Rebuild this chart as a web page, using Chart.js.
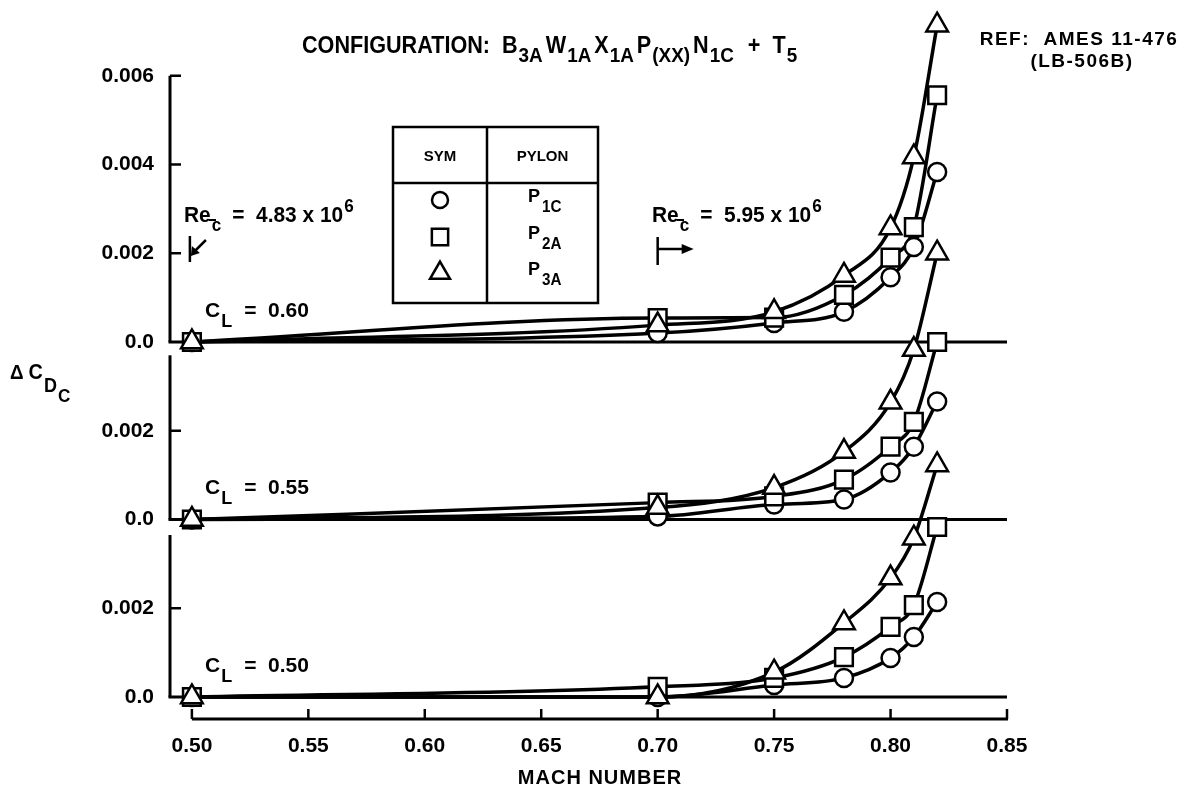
<!DOCTYPE html>
<html lang="en">
<head>
<meta charset="UTF-8">
<title>Pylon drag increment vs Mach number</title>
<script src="https://cdn.jsdelivr.net/npm/chart.js"></script>
<style>
  html, body { margin: 0; padding: 0; background: #fff; }
  #wrap { width: 1185px; height: 787px; position: relative; }
</style>
</head>
<body>
<div id="wrap"><canvas id="chart"></canvas></div>
<script>
// mach numbers where data was taken
const machNumbers = [0.50, 0.70, 0.75, 0.78, 0.80, 0.81, 0.82];

// delta CDc per pylon, one array per lift coefficient
const p1c_060 = [0, 0.00020, 0.00043, 0.00068, 0.00146, 0.00214, 0.00383];
const p2a_060 = [0, 0.00054, 0.00055, 0.00106, 0.00190, 0.00259, 0.00556];
const p3a_060 = [0, 0.00038, 0.00068, 0.00150, 0.00257, 0.00417, 0.00714];

const p1c_055 = [0, 0.00007, 0.00034, 0.00045, 0.00106, 0.00164, 0.00266];
const p2a_055 = [0, 0.00038, 0.00052, 0.00090, 0.00164, 0.00220, 0.00400];
const p3a_055 = [0, 0.00027, 0.00072, 0.00153, 0.00264, 0.00383, 0.00600];

const p1c_050 = [0, 0.00000, 0.00027, 0.00043, 0.00088, 0.00135, 0.00214];
const p2a_050 = [0, 0.00023, 0.00043, 0.00090, 0.00158, 0.00207, 0.00383];
const p3a_050 = [0, 0.00000, 0.00056, 0.00167, 0.00268, 0.00358, 0.00523];

// panels are stacked on one axis, each shifted up by its offset
const panelLabels = ['0.60', '0.55', '0.50'];
const panelOffsets = [0.008, 0.004, 0];
const pylonNames = ['1C', '2A', '3A'];
const pylonSymbols = ['circle', 'rect', 'triangle'];

const xTickValues = [0.50, 0.55, 0.60, 0.65, 0.70, 0.75, 0.80, 0.85];
const xTickLabels = ['0.50', '0.55', '0.60', '0.65', '0.70', '0.75', '0.80', '0.85'];
const yTickValues = [0, 0.002, 0.004, 0.006, 0.008, 0.010, 0.012, 0.014];
const yTickLabels = ['0.0', '0.002', '0.0', '0.002', '0.0', '0.002', '0.004', '0.006'];

const panelSeries = [
  [p1c_060, p2a_060, p3a_060],
  [p1c_055, p2a_055, p3a_055],
  [p1c_050, p2a_050, p3a_050]
];

const SANS = '"Liberation Sans", Arial, Helvetica, sans-serif';

const markerRadius = { circle: 9, rect: 12.5, triangle: 12.5 };

const datasets = [];
panelSeries.forEach((group, p) => {
  group.forEach((vals, s) => {
    const pts = vals.map((v, i) => ({ x: machNumbers[i], y: v + panelOffsets[p] }));
    // curve (drawn underneath)
    datasets.push({
      data: pts,
      borderColor: '#000',
      borderWidth: 3.5,
      pointRadius: 0,
      cubicInterpolationMode: 'monotone',
      fill: false,
      clip: false,
      order: 2
    });
    // open symbols on top, triangles last so they sit over the others
    datasets.push({
      data: pts,
      showLine: false,
      pointStyle: pylonSymbols[s],
      pointRadius: markerRadius[pylonSymbols[s]],
      pointBorderWidth: 2.5,
      pointBorderColor: '#000',
      pointBackgroundColor: '#fff',
      clip: false,
      order: 1 + (3 - s) / 10
    });
  });
});

function runs(ctx, x, y, parts, sx) {
  // text pieces one after another, narrowed by sx; each part may shift up/down
  sx = sx || 1;
  ctx.save();
  ctx.translate(x, y);
  ctx.scale(sx, 1);
  let cx = 0;
  parts.forEach(p => {
    ctx.font = p.font;
    ctx.fillText(p.t, cx, p.dy || 0);
    cx += ctx.measureText(p.t).width + (p.gap || 0) / sx;
  });
  ctx.restore();
  return x + cx * sx;
}

const frame = {
  id: 'frame',
  beforeDatasetsDraw(chart) {
    const { ctx, chartArea, scales: { x, y } } = chart;
    ctx.save();
    ctx.strokeStyle = '#000';
    ctx.lineCap = 'butt';

    // panel baselines
    ctx.lineWidth = 3;
    panelOffsets.forEach(o => {
      ctx.beginPath();
      ctx.moveTo(chartArea.left - 1.5, y.getPixelForValue(o));
      ctx.lineTo(x.getPixelForValue(0.85), y.getPixelForValue(o));
      ctx.stroke();
    });

    // broken left spine, one piece per panel
    const spineTop = [0.014, 0.0077, 0.00365];
    const spineBot = [0.008, 0.004, 0];
    spineTop.forEach((t, i) => {
      ctx.beginPath();
      ctx.moveTo(chartArea.left, y.getPixelForValue(t));
      ctx.lineTo(chartArea.left, y.getPixelForValue(spineBot[i]));
      ctx.stroke();
    });
    ctx.lineWidth = 2.5;
    [0.002, 0.006, 0.010, 0.012, 0.014].forEach(v => {
      const py = y.getPixelForValue(v);
      ctx.beginPath();
      ctx.moveTo(chartArea.left, py);
      ctx.lineTo(chartArea.left + 11, py);
      ctx.stroke();
    });

    // mach axis
    const by = chartArea.bottom;
    ctx.lineWidth = 3;
    ctx.beginPath();
    ctx.moveTo(x.getPixelForValue(0.50), by);
    ctx.lineTo(x.getPixelForValue(0.85) + 1, by);
    ctx.stroke();
    ctx.lineWidth = 2.5;
    xTickValues.forEach(v => {
      const px = x.getPixelForValue(v);
      ctx.beginPath();
      ctx.moveTo(px, by);
      ctx.lineTo(px, by - 10);
      ctx.stroke();
    });
    ctx.restore();
  },
  afterDraw(chart) {
    const { ctx, scales: { x, y } } = chart;
    ctx.save();
    ctx.fillStyle = '#000';
    ctx.strokeStyle = '#000';
    ctx.textBaseline = 'alphabetic';
    ctx.textAlign = 'left';

    const big = 'bold 24px ' + SANS;
    const mid = 'bold 22px ' + SANS;
    const sub = 'bold 18px ' + SANS;
    const tsub = 'bold 21px ' + SANS;

    // title
    runs(ctx, 302, 53, [
      { t: 'CONFIGURATION:  B', font: big, gap: 1 },
      { t: '3A', font: tsub, dy: 9, gap: 3 },
      { t: 'W', font: big, gap: 1 },
      { t: '1A', font: tsub, dy: 9, gap: 3 },
      { t: 'X', font: big, gap: 1 },
      { t: '1A', font: tsub, dy: 9, gap: 3 },
      { t: 'P', font: big, gap: 1 },
      { t: '(XX)', font: tsub, dy: 9, gap: 3 },
      { t: 'N', font: big, gap: 1 },
      { t: '1C', font: tsub, dy: 9, gap: 14 },
      { t: '+  T', font: big, gap: 1 },
      { t: '5', font: tsub, dy: 9 }
    ], 0.9);

    // reference
    ctx.font = 'bold 19px ' + SANS;
    ctx.letterSpacing = '1.5px';
    ctx.textAlign = 'center';
    ctx.fillText('REF:  AMES 11-476', 1079, 45);
    ctx.fillText('(LB-506B)', 1082, 67);
    ctx.letterSpacing = '0px';
    ctx.textAlign = 'left';

    // y title
    runs(ctx, 10, 379, [
      { t: '\u0394', font: 'bold 21px ' + SANS, gap: 5 },
      { t: 'C', font: mid, gap: 1 },
      { t: 'D', font: 'bold 20px ' + SANS, dy: 13, gap: 1 },
      { t: 'C', font: 'bold 19px ' + SANS, dy: 23 }
    ], 0.9);

    // lift coefficient labels
    panelOffsets.forEach((o, i) => {
      const py = y.getPixelForValue(o) - 25;
      runs(ctx, 205, py, [
        { t: 'C', font: 'bold 21px ' + SANS, gap: 1 },
        { t: 'L', font: sub, dy: 10, gap: 12 },
        { t: '=  ' + panelLabels[i], font: 'bold 21px ' + SANS }
      ]);
    });

    // Reynolds number notes, starting at the mach number where they apply
    const reNote = (rx, ry, val) => {
      runs(ctx, rx, ry, [
        { t: 'Re', font: mid, gap: 1 },
        { t: 'c', font: sub, dy: 9, gap: 11 },
        { t: '=  ' + val + ' x 10', font: mid, gap: 1 },
        { t: '6', font: sub, dy: -10 }
      ], 0.95);
      // bar over the subscript c
      ctx.lineWidth = 2;
      ctx.beginPath();
      ctx.moveTo(rx + 25, ry - 2);
      ctx.lineTo(rx + 32, ry - 2);
      ctx.stroke();
    };
    reNote(184, 222, '4.83');
    reNote(652, 222, '5.95');

    // left marker: bar at M = 0.50 and slanted arrow
    const lx = x.getPixelForValue(0.50) - 2;
    ctx.lineWidth = 2.5;
    ctx.beginPath();
    ctx.moveTo(lx, 236); ctx.lineTo(lx, 262);
    ctx.moveTo(lx + 16, 240); ctx.lineTo(lx + 5, 251);
    ctx.stroke();
    ctx.beginPath();
    ctx.moveTo(lx + 1, 256); ctx.lineTo(lx + 2, 246); ctx.lineTo(lx + 10, 253); ctx.closePath();
    ctx.fill();
    // right marker: bar at M = 0.70 and arrow to the right
    const rx = x.getPixelForValue(0.70);
    ctx.beginPath();
    ctx.moveTo(rx, 237); ctx.lineTo(rx, 265);
    ctx.moveTo(rx, 249); ctx.lineTo(rx + 26, 249);
    ctx.stroke();
    ctx.beginPath();
    ctx.moveTo(rx + 36, 249); ctx.lineTo(rx + 24, 244); ctx.lineTo(rx + 24, 254); ctx.closePath();
    ctx.fill();

    // symbol table
    const tL = 393, tR = 598, tT = 127, tH = 183, tB = 303, tM = 487;
    ctx.lineWidth = 2.5;
    ctx.strokeRect(tL, tT, tR - tL, tB - tT);
    ctx.beginPath();
    ctx.moveTo(tM, tT); ctx.lineTo(tM, tB);
    ctx.moveTo(tL, tH); ctx.lineTo(tR, tH);
    ctx.stroke();
    ctx.font = 'bold 15px ' + SANS;
    ctx.textAlign = 'center';
    ctx.fillText('SYM', (tL + tM) / 2, 161);
    ctx.fillText('PYLON', (tM + tR) / 2, 161);
    ctx.textAlign = 'left';
    const rowY = [200, 237, 273];
    pylonSymbols.forEach((sym, i) => {
      ctx.save();
      ctx.fillStyle = '#fff';
      ctx.strokeStyle = '#000';
      ctx.lineWidth = 2.5;
      Chart.helpers.drawPoint(ctx, {
        pointStyle: sym,
        radius: markerRadius[sym] - 1,
        borderWidth: 2.5
      }, 440, rowY[i]);
      ctx.restore();
      runs(ctx, 528, rowY[i] + 2, [
        { t: 'P', font: 'bold 19px ' + SANS, gap: 2 },
        { t: pylonNames[i], font: 'bold 16px ' + SANS, dy: 10 }
      ], 0.95);
    });

    // x title
    ctx.font = 'bold 20px ' + SANS;
    ctx.letterSpacing = '1px';
    ctx.textAlign = 'center';
    ctx.fillText('MACH NUMBER', 600, 784);
    ctx.restore();
  }
};

new Chart(document.getElementById('chart'), {
  type: 'line',
  data: { datasets },
  options: {
    responsive: true,
    maintainAspectRatio: false,
    animation: false,
    layout: { padding: { top: 20, right: 178, bottom: 0, left: 0 } },
    plugins: { legend: { display: false }, tooltip: { enabled: false } },
    scales: {
      x: {
        type: 'linear',
        min: 0.4906,
        max: 0.85,
        grid: { display: false, drawTicks: false },
        border: { display: false },
        afterBuildTicks: s => { s.ticks = xTickValues.map(v => ({ value: v })); },
        afterFit: s => { s.height = 68; s.paddingLeft = 0; s.paddingRight = 0; },
        ticks: {
          autoSkip: false,
          maxRotation: 0,
          padding: 15,
          color: '#000',
          font: { family: SANS, size: 21, weight: 'bold' },
          callback: (v, i) => xTickLabels[i]
        }
      },
      y: {
        type: 'linear',
        min: -0.000496,
        max: 0.015256,
        grid: { display: false, drawTicks: false },
        border: { display: false },
        afterBuildTicks: s => { s.ticks = yTickValues.map(v => ({ value: v })); },
        afterFit: s => { s.width = 170; s.paddingTop = 0; s.paddingBottom = 0; },
        ticks: {
          autoSkip: false,
          padding: 16,
          color: '#000',
          font: { family: SANS, size: 21, weight: 'bold' },
          callback: (v, i) => yTickLabels[i]
        }
      }
    }
  },
  plugins: [frame]
});
</script>
</body>
</html>
